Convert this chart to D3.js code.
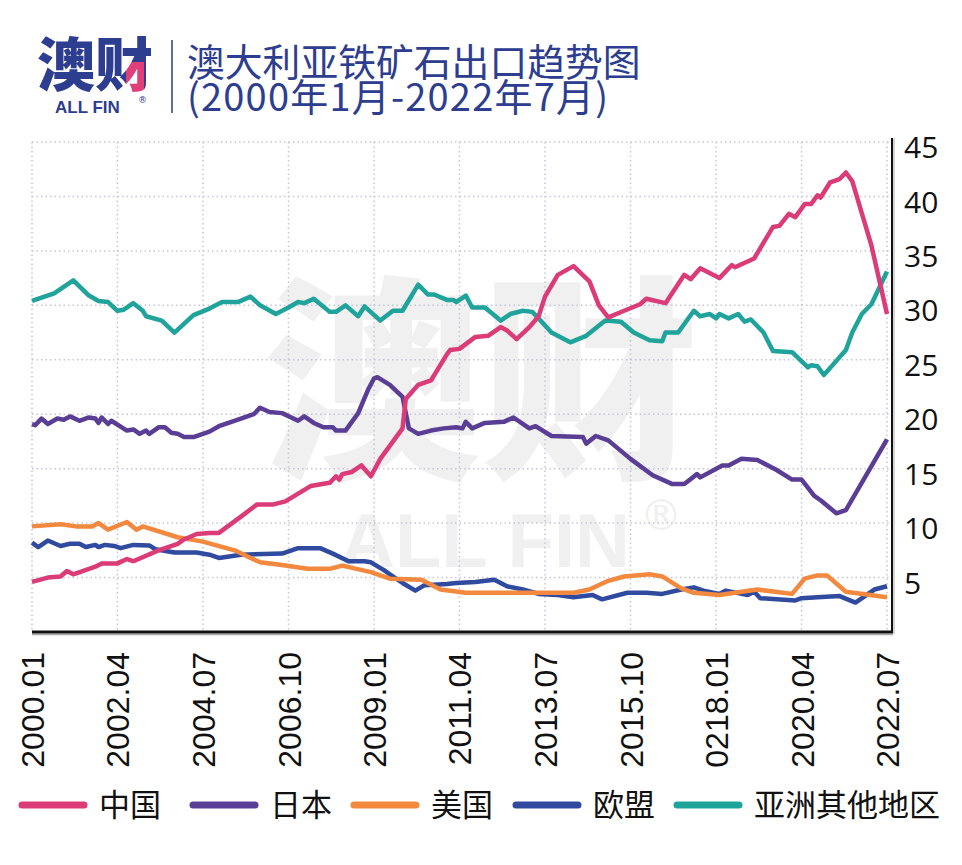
<!DOCTYPE html>
<html><head><meta charset="utf-8">
<script src="https://cdn.jsdelivr.net/npm/d3@7"></script>
<style>html,body{margin:0;background:#fff;}svg{display:block}</style>
</head><body><svg id="c" width="962" height="865"></svg>
<script>
// ---------- data ----------
const xTickDates = ["2000-01","2002-04","2004-07","2006-10","2009-01","2011-04","2013-07","2015-10","2018-01","2020-04","2022-07"];
const xTickLabels = ["2000.01","2002.04","2004.07","2006.10","2009.01","2011.04","2013.07","2015.10","0218.01","2020.04","2022.07"];
const yTickValues = [5,10,15,20,25,30,35,40,45];
const seriesNames = ["中国","日本","美国","欧盟","亚洲其他地区"];
const seriesColors = ["#db3b77","#5a3e95","#f2893f","#2f4a9f","#1fa39b"];

const china = [["2000-01",4.6],["2000-06",5.0],["2000-10",5.1],["2000-12",5.6],["2001-02",5.3],["2001-09",6.0],["2001-11",6.3],["2002-04",6.3],["2002-07",6.7],["2002-09",6.5],["2003-05",7.5],["2003-11",8.1],["2004-01",8.5],["2004-05",9.0],["2004-09",9.1],["2004-12",9.1],["2005-07",10.6],["2005-12",11.7],["2006-05",11.7],["2006-09",12.0],["2007-05",13.4],["2007-11",13.7],["2008-01",14.3],["2008-02",14.0],["2008-03",14.5],["2008-06",14.7],["2008-09",15.3],["2008-12",14.3],["2009-03",15.9],["2009-10",18.7],["2009-11",21.4],["2010-03",22.7],["2010-07",23.1],["2010-12",25.5],["2011-01",25.9],["2011-04",26.0],["2011-09",27.1],["2012-01",27.2],["2012-05",28.0],["2012-07",27.7],["2012-10",26.9],["2013-02",28.0],["2013-05",29.0],["2013-07",30.8],["2013-11",32.8],["2014-04",33.6],["2014-09",32.2],["2014-12",30.0],["2015-03",28.9],["2015-08",29.5],["2016-01",30.1],["2016-03",30.6],["2016-09",30.2],["2017-03",32.8],["2017-05",32.4],["2017-08",33.4],["2018-02",32.5],["2018-06",33.7],["2018-07",33.5],["2019-01",34.3],["2019-07",37.2],["2019-09",37.3],["2019-12",38.4],["2020-02",38.1],["2020-05",39.3],["2020-07",39.3],["2020-09",40.1],["2020-10",39.9],["2021-01",41.3],["2021-04",41.6],["2021-06",42.2],["2021-08",41.4],["2022-02",35.5],["2022-07",29.2]];

const japan = [["2000-01",19.1],["2000-02",19.0],["2000-04",19.6],["2000-06",19.1],["2000-09",19.6],["2000-11",19.5],["2001-01",19.8],["2001-04",19.4],["2001-07",19.7],["2001-09",19.6],["2001-10",19.2],["2001-11",19.7],["2002-01",19.1],["2002-02",19.4],["2002-07",18.5],["2002-09",18.6],["2002-11",18.2],["2003-01",18.5],["2003-02",18.2],["2003-05",18.8],["2003-07",18.8],["2003-09",18.3],["2003-11",18.2],["2004-01",17.9],["2004-04",17.9],["2004-09",18.4],["2004-12",18.9],["2005-07",19.6],["2005-11",20.0],["2006-01",20.6],["2006-04",20.2],["2006-08",20.1],["2007-01",19.4],["2007-03",19.8],["2007-06",19.2],["2007-09",18.8],["2007-12",18.8],["2008-01",18.5],["2008-04",18.5],["2008-08",20.1],["2008-11",22.2],["2009-01",23.3],["2009-02",23.4],["2009-06",22.7],["2009-10",21.6],["2009-12",18.7],["2010-03",18.2],["2010-07",18.5],["2010-11",18.7],["2011-03",18.8],["2011-05",18.7],["2011-06",19.3],["2011-08",18.7],["2011-12",19.2],["2012-06",19.3],["2012-09",19.7],["2013-02",18.7],["2013-04",18.9],["2013-09",18.0],["2014-07",17.9],["2014-08",17.3],["2014-11",18.0],["2015-03",17.6],["2015-10",15.9],["2016-05",14.4],["2016-11",13.6],["2017-03",13.6],["2017-07",14.5],["2017-08",14.2],["2018-03",15.3],["2018-05",15.3],["2018-09",15.9],["2019-02",15.8],["2019-08",14.9],["2020-01",14.0],["2020-04",14.0],["2020-08",12.5],["2020-10",12.1],["2021-03",10.9],["2021-06",11.2],["2022-07",17.7]];

const usa = [["2000-01",9.7],["2000-10",9.9],["2001-03",9.7],["2001-08",9.7],["2001-10",10.0],["2002-01",9.4],["2002-07",10.1],["2002-10",9.4],["2002-12",9.7],["2003-11",8.7],["2004-07",8.3],["2005-05",7.5],["2006-01",6.4],["2006-09",6.1],["2007-04",5.8],["2007-11",5.8],["2008-03",6.1],["2008-12",5.5],["2009-06",4.9],["2010-04",4.8],["2010-10",3.9],["2011-06",3.6],["2014-04",3.6],["2014-09",3.9],["2015-03",4.7],["2015-08",5.1],["2016-04",5.3],["2016-08",5.1],["2017-02",4.0],["2017-06",3.6],["2018-02",3.4],["2019-02",3.9],["2020-01",3.5],["2020-05",4.9],["2020-09",5.2],["2020-12",5.2],["2021-06",3.7],["2022-07",3.2]];

const eu = [["2000-01",8.2],["2000-03",7.8],["2000-06",8.4],["2000-10",7.9],["2001-01",8.1],["2001-04",8.1],["2001-06",7.8],["2001-09",8.0],["2001-10",7.8],["2001-12",8.0],["2002-03",7.9],["2002-05",7.7],["2002-09",8.0],["2003-02",7.95],["2003-04",7.6],["2003-10",7.3],["2004-05",7.3],["2004-09",7.1],["2004-12",6.8],["2005-07",7.1],["2006-08",7.2],["2007-01",7.7],["2007-08",7.7],["2007-12",7.2],["2008-05",6.5],["2008-10",6.5],["2008-12",6.4],["2009-04",5.7],["2009-10",4.5],["2010-02",3.8],["2010-05",4.3],["2010-12",4.4],["2011-03",4.5],["2011-09",4.6],["2012-03",4.8],["2012-07",4.2],["2012-12",3.9],["2013-05",3.5],["2013-11",3.4],["2014-04",3.2],["2014-10",3.4],["2015-01",3.0],["2015-09",3.6],["2016-03",3.6],["2016-08",3.5],["2017-02",3.9],["2017-06",4.1],["2017-09",3.8],["2018-02",3.5],["2018-04",3.8],["2018-11",3.4],["2019-01",3.7],["2019-03",3.1],["2020-02",2.9],["2020-04",3.1],["2020-09",3.2],["2021-04",3.3],["2021-09",2.7],["2022-03",3.9],["2022-07",4.2]];

const otherAsia = [["2000-01",30.4],["2000-08",31.1],["2001-02",32.3],["2001-07",30.9],["2001-10",30.4],["2002-01",30.3],["2002-04",29.5],["2002-06",29.6],["2002-09",30.2],["2002-12",29.5],["2003-01",29.0],["2003-06",28.6],["2003-10",27.5],["2004-04",29.1],["2004-09",29.7],["2005-01",30.3],["2005-06",30.3],["2005-10",30.8],["2006-01",30.0],["2006-06",29.2],["2006-10",29.8],["2007-01",30.3],["2007-03",30.2],["2007-06",30.6],["2007-11",29.4],["2008-01",29.4],["2008-04",30.0],["2008-08",29.0],["2008-10",29.9],["2009-03",28.6],["2009-07",29.5],["2009-10",29.5],["2010-03",31.9],["2010-06",31.0],["2010-08",31.0],["2010-12",30.5],["2011-02",30.5],["2011-03",30.3],["2011-06",30.9],["2011-08",29.8],["2011-12",29.8],["2012-05",28.6],["2012-08",29.2],["2012-12",29.5],["2013-03",29.4],["2013-05",28.8],["2013-09",27.5],["2014-03",26.6],["2014-08",27.2],["2015-02",28.6],["2015-07",28.5],["2015-11",27.5],["2016-04",26.8],["2016-08",26.7],["2016-09",27.5],["2017-01",27.5],["2017-06",29.5],["2017-08",29.0],["2017-11",29.2],["2018-01",28.8],["2018-02",29.2],["2018-05",28.8],["2018-08",29.2],["2018-10",28.5],["2018-12",28.7],["2019-04",27.5],["2019-07",25.8],["2020-01",25.7],["2020-06",24.3],["2020-07",24.5],["2020-09",24.4],["2020-11",23.6],["2021-03",24.9],["2021-06",25.9],["2021-08",27.5],["2021-11",29.2],["2022-02",30.1],["2022-07",33.1]];

const seriesData = [china, japan, usa, eu, otherAsia];

// ---------- drawing ----------
const svg = d3.select("#c");
const parse = d3.timeParse("%Y-%m");
const plotL = 32, plotR = 887, axisR = 892, plotT = 142, plotB = 632;
const x = d3.scaleTime().domain([parse(xTickDates[0]), parse(xTickDates[xTickDates.length-1])]).range([plotL, plotR]);
const y = d3.scaleLinear().domain([0, 45]).range([plotB, plotT]);

const BLUE = "#2d3d8f";
const wmFill = "#eff0ef";

// logo fill: blue with a pink accent on the hook of 财
const defs = svg.append("defs");
const pat = defs.append("pattern").attr("id", "logoFill").attr("patternUnits", "userSpaceOnUse")
  .attr("x", 0).attr("y", 0).attr("width", 962).attr("height", 865);
pat.append("rect").attr("width", 962).attr("height", 865).attr("fill", BLUE);
pat.append("rect").attr("x", 126).attr("y", 62).attr("width", 18).attr("height", 30).attr("fill", "#e0407a");

// watermark
const wm = svg.append("g");
wm.append("text").attr("x", 263).attr("y", 462).attr("font-family", "Noto Sans CJK SC").attr("font-weight", 900)
  .attr("font-size", 218).attr("fill", wmFill).text("澳财");
wm.append("text").attr("x", 340).attr("y", 567).attr("font-family", "Liberation Sans, Arial").attr("font-weight", 700)
  .attr("font-size", 76).attr("fill", wmFill).text("ALL FIN");
wm.append("text").attr("x", 640).attr("y", 530).attr("font-family", "DejaVu Sans").attr("font-size", 42)
  .attr("fill", wmFill).text("®");

// gridlines
const grid = svg.append("g").attr("stroke", "#c6c6d8").attr("stroke-width", 1.5).attr("stroke-dasharray", "1.5,3");
grid.selectAll("line.h").data(yTickValues).join("line").attr("class","h")
  .attr("x1", plotL).attr("x2", axisR).attr("y1", d => y(d)).attr("y2", d => y(d));
grid.selectAll("line.v").data(xTickDates).join("line").attr("class","v")
  .attr("x1", d => x(parse(d))).attr("x2", d => x(parse(d))).attr("y1", plotT).attr("y2", plotB);

// series lines
const line = d3.line().x(d => x(parse(d[0]))).y(d => y(d[1]));
const order = [4, 3, 2, 1, 0];
svg.append("g").selectAll("path").data(order).join("path")
  .attr("d", i => line(seriesData[i]))
  .attr("fill", "none").attr("stroke", i => seriesColors[i]).attr("stroke-width", 4.5)
  .attr("stroke-linejoin", "round").attr("stroke-linecap", "butt");

// axes lines
svg.append("line").attr("x1", plotL).attr("x2", axisR + 1).attr("y1", plotB + 2.5).attr("y2", plotB + 2.5)
  .attr("stroke", "#aaa").attr("stroke-width", 1.5);
svg.append("line").attr("x1", axisR + 2).attr("x2", axisR + 2).attr("y1", plotT - 4).attr("y2", plotB + 2)
  .attr("stroke", "#bbb").attr("stroke-width", 1.2);
svg.append("line").attr("x1", plotL).attr("x2", axisR + 1).attr("y1", plotB).attr("y2", plotB)
  .attr("stroke", "#111").attr("stroke-width", 3);

// right axis
const yAxis = svg.append("g").attr("transform", `translate(${axisR},0)`)
  .call(d3.axisRight(y).tickValues(yTickValues).tickSize(0).tickPadding(12));
yAxis.select(".domain").attr("d", `M0,${plotT - 4}V${plotB}`).attr("stroke", "#111").attr("stroke-width", 2);
yAxis.selectAll("text").attr("font-family", "Open Sans").attr("font-size", 30).attr("fill", "#111").attr("dy", "0.52em");

// bottom axis labels
const xAxis = svg.append("g").attr("transform", `translate(0,${plotB})`)
  .call(d3.axisBottom(x).tickValues(xTickDates.map(parse)).tickFormat((d, i) => xTickLabels[i]).tickSize(0));
xAxis.select(".domain").remove();
xAxis.selectAll("text")
  .attr("font-family", "Liberation Sans, Arial").attr("font-size", 32).attr("fill", "#111")
  .attr("text-anchor", "end").attr("transform", "rotate(-90)")
  .attr("x", -20).attr("y", 0).attr("dy", "0.36em");

// title & logo
const logo = svg.append("g");
logo.append("text").attr("x", 37).attr("y", 86).attr("font-family", "Noto Sans CJK SC").attr("font-weight", 900)
  .attr("font-size", 58).attr("fill", "url(#logoFill)").text("澳财");
logo.append("text").attr("x", 55).attr("y", 113).attr("font-family", "Liberation Sans, Arial").attr("font-weight", 700)
  .attr("font-size", 17).attr("fill", BLUE).text("ALL FIN");
logo.append("text").attr("x", 138).attr("y", 103).attr("font-family", "DejaVu Sans").attr("font-size", 9)
  .attr("fill", BLUE).text("®");
svg.append("line").attr("x1", 172).attr("x2", 172).attr("y1", 40).attr("y2", 113).attr("stroke", BLUE).attr("stroke-width", 1.5);
svg.append("text").attr("x", 187).attr("y", 76).attr("font-family", "Noto Sans CJK SC").attr("font-size", 37.8)
  .attr("fill", BLUE).text("澳大利亚铁矿石出口趋势图");
svg.append("text").attr("x", 187).attr("y", 111).attr("font-family", "Noto Sans CJK SC").attr("font-size", 38)
  .attr("letter-spacing", 1.2).attr("fill", BLUE).text("(2000年1月-2022年7月)");

// legend
const legendX = [22, 193, 354, 516, 677];
const lg = svg.append("g").selectAll("g").data(seriesNames).join("g")
  .attr("transform", (d, i) => `translate(${legendX[i]},805)`);
lg.append("line").attr("x1", 0).attr("x2", 62).attr("y1", 0).attr("y2", 0)
  .attr("stroke", (d, i) => seriesColors[i]).attr("stroke-width", 7).attr("stroke-linecap", "round");
lg.append("text").attr("x", 77).attr("y", 0).attr("dy", "0.36em").attr("font-family", "Noto Sans CJK SC")
  .attr("font-size", 31).attr("fill", "#111").text(d => d);
</script></body></html>
